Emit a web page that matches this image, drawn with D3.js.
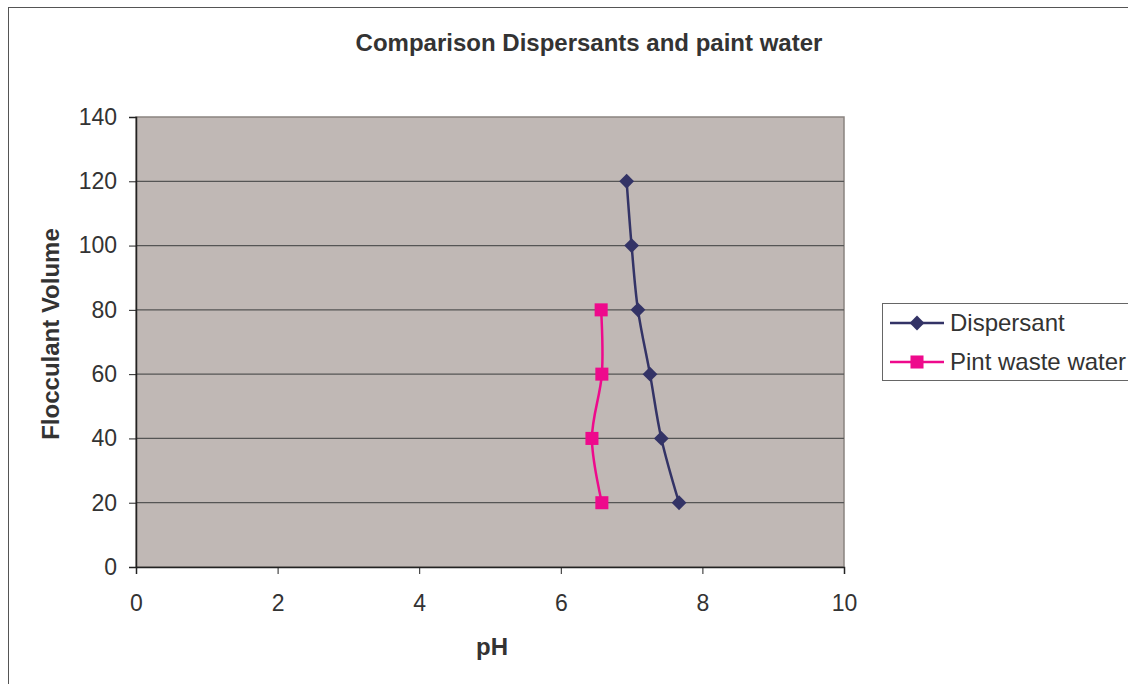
<!DOCTYPE html>
<html>
<head>
<meta charset="utf-8">
<script src="https://cdn.jsdelivr.net/npm/d3@7"></script>
<style>
  body { margin: 0; background: #fff; }
  svg text { font-family: "Liberation Sans", Arial, sans-serif; fill: #333; }
</style>
</head>
<body>
<svg id="chart" width="1128" height="684"></svg>
<script>
// values
const volume = [120, 100, 80, 60, 40, 20];
const phDispersant = [6.93, 7.0, 7.09, 7.26, 7.42, 7.67];
const volumePaint = [80, 60, 40, 20];
const phPaint = [6.57, 6.58, 6.44, 6.58];
const xTicks = [0, 2, 4, 6, 8, 10];
const yTicks = [0, 20, 40, 60, 80, 100, 120, 140];

// Excel style diamond = square turned 45deg
const series = [
  {name: 'Dispersant', color: '#333366', shape: d3.symbolSquare, size: 110, rot: 45,
   pts: volume.map((v, i) => [phDispersant[i], v])},
  {name: 'Pint waste water', color: '#EE0A8C', shape: d3.symbolSquare, size: 170, rot: 0,
   pts: volumePaint.map((v, i) => [phPaint[i], v])}
];

const svg = d3.select('#chart');
const plot = {left: 136, top: 117, right: 844, bottom: 567};

// outer chart border (runs off right / bottom edge)
svg.append('rect').attr('x', 8.5).attr('y', 7.5).attr('width', 1130).attr('height', 690)
  .attr('fill', '#fff').attr('stroke', '#555').attr('stroke-width', 1);

const x = d3.scaleLinear().domain([0, 10]).range([plot.left, plot.right]);
const y = d3.scaleLinear().domain([0, 140]).range([plot.bottom, plot.top]);

svg.append('rect')
  .attr('x', plot.left).attr('y', plot.top)
  .attr('width', plot.right - plot.left).attr('height', plot.bottom - plot.top)
  .attr('fill', '#C0B8B5').attr('stroke', '#8a8480').attr('stroke-width', 1.5);

// gridlines
svg.append('g').selectAll('line').data(yTicks.filter(t => t > 0 && t < 140)).join('line')
  .attr('x1', plot.left).attr('x2', plot.right)
  .attr('y1', d => y(d)).attr('y2', d => y(d))
  .attr('stroke', '#555').attr('stroke-width', 1.2);

// axes
const xAxis = svg.append('g').attr('transform', `translate(0,${plot.bottom})`)
  .call(d3.axisBottom(x).tickValues(xTicks).tickSize(7).tickPadding(21).tickFormat(d3.format('d')));
const yAxis = svg.append('g').attr('transform', `translate(${plot.left},0)`)
  .call(d3.axisLeft(y).tickValues(yTicks).tickSize(7).tickPadding(12).tickFormat(d3.format('d')));
[xAxis, yAxis].forEach(a => {
  a.select('.domain').attr('stroke', '#222').attr('stroke-width', 1.5);
  a.selectAll('.tick line').attr('stroke', '#222');
  a.selectAll('text').attr('font-size', 23).attr('fill', '#333')
    .attr('font-family', '"Liberation Sans", Arial, sans-serif');
});

// series lines + markers
const line = d3.line().x(d => x(d[0])).y(d => y(d[1])).curve(d3.curveCatmullRom.alpha(0.5));
series.forEach(s => {
  svg.append('path').datum(s.pts).attr('d', line)
    .attr('fill', 'none').attr('stroke', s.color).attr('stroke-width', 2.5);
  svg.append('g').selectAll('path').data(s.pts).join('path')
    .attr('transform', d => `translate(${x(d[0])},${y(d[1])}) rotate(${s.rot})`)
    .attr('d', d3.symbol().type(s.shape).size(s.size))
    .attr('fill', s.color);
});

// titles
svg.append('text').attr('x', 589).attr('y', 51).attr('text-anchor', 'middle')
  .attr('font-size', 24).attr('font-weight', 'bold').text('Comparison Dispersants and paint water');
svg.append('text').attr('x', 492).attr('y', 655).attr('text-anchor', 'middle')
  .attr('font-size', 24).attr('font-weight', 'bold').text('pH');
svg.append('text').attr('transform', 'translate(59,334) rotate(-90)').attr('text-anchor', 'middle')
  .attr('font-size', 24).attr('font-weight', 'bold').text('Flocculant Volume');

// legend
const lg = svg.append('g');
lg.append('rect').attr('x', 882.5).attr('y', 303.5).attr('width', 260).attr('height', 77)
  .attr('fill', '#fff').attr('stroke', '#666').attr('stroke-width', 1);
series.forEach((s, i) => {
  const ly = 323 + i * 39;
  lg.append('line').attr('x1', 890).attr('x2', 944).attr('y1', ly).attr('y2', ly)
    .attr('stroke', s.color).attr('stroke-width', 2.5);
  lg.append('path').attr('transform', `translate(917,${ly}) rotate(${s.rot})`)
    .attr('d', d3.symbol().type(s.shape).size(s.size)).attr('fill', s.color);
  lg.append('text').attr('x', 950).attr('y', ly + 8).attr('font-size', 24).text(s.name);
});
</script>
</body>
</html>
